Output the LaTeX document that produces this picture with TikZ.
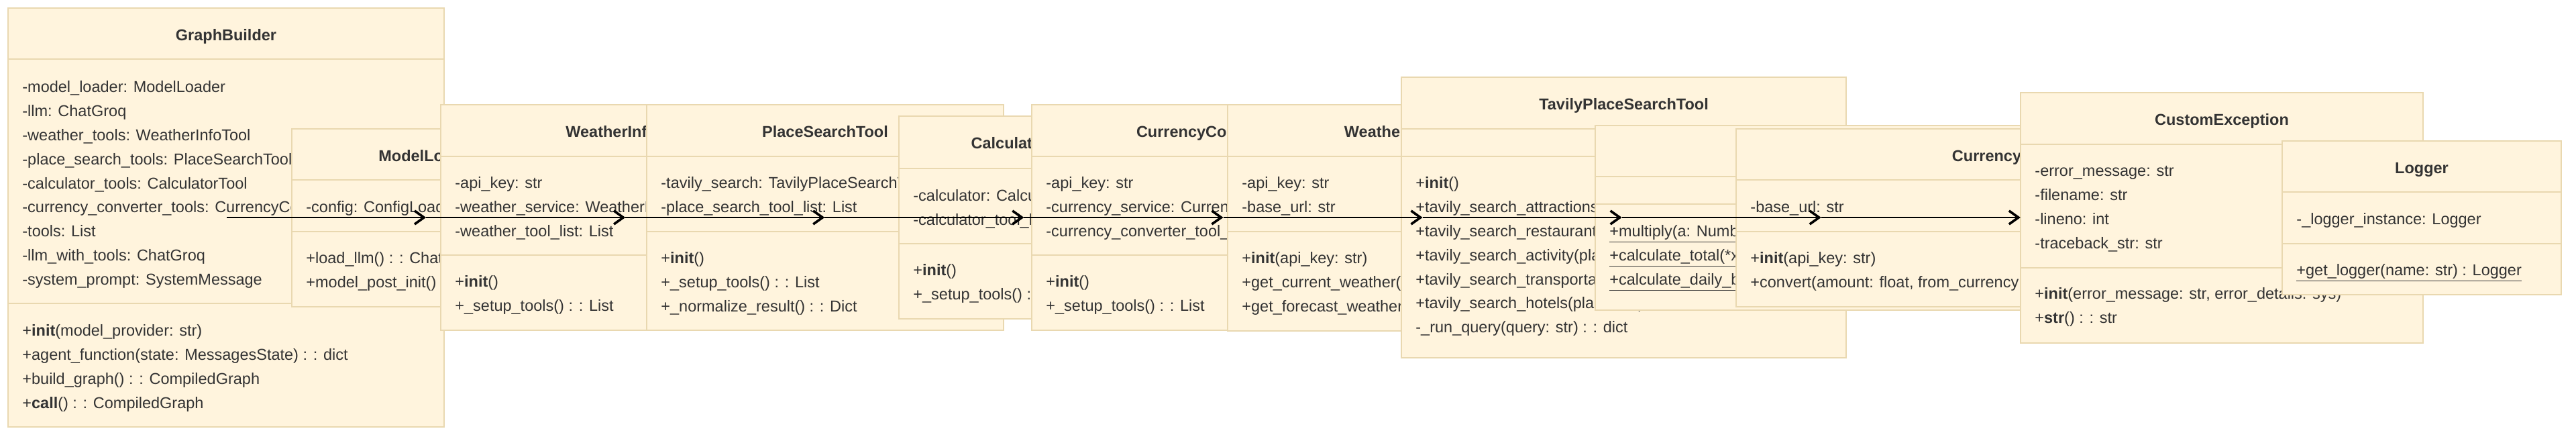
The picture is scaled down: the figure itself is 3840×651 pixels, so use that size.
\documentclass[tikz,border=0pt]{standalone}
\usepackage{fontspec}
\setmainfont{Liberation Sans}
\usetikzlibrary{arrows.meta}
\definecolor{boxfill}{HTML}{FFF4DD}
\definecolor{boxline}{HTML}{E9D8B0}
\definecolor{txtgray}{HTML}{333333}
\newcommand\umlclass[8]{%
  \node[cls, minimum width={(#4-#2)*0.5pt}, minimum height={(#5-#3)*0.5pt}] (#1) at ({(#2+#4)/2},{(#3+#5)/2}) {};
  \draw[sep] (#2,#6) -- (#4,#6) (#2,#7) -- (#4,#7);
  \node[ttl] (#1-t) at ({(#2+#4)/2},#3+49) {#8};}
\newcommand\umllines[5]{%
  \foreach \linetext [count=\i] in {#5} \node[txt] (#1-#2\i) at (#3,{#4+35.8*(\i-1)}) {\linetext};}
\begin{document}
\begin{tikzpicture}[x=0.5pt, y=-0.5pt,
  cls/.style={draw=boxline, fill=boxfill, line width=1pt, inner sep=0pt, outer sep=0pt},
  sep/.style={draw=boxline, line width=1pt},
  ttl/.style={anchor=base, font=\fontsize{11.75}{14}\selectfont\bfseries, text=txtgray, inner sep=0pt},
  txt/.style={anchor=base west, font=\fontsize{11.75}{14}\selectfont, text=txtgray, inner sep=0pt},
  dep/.style={-{Straight Barb[length=7pt,width=10pt,line width=1.8pt]}, line width=1.3pt, black}]
\useasboundingbox (0,0) rectangle (3840,651);
\umlclass{gb}{12}{12}{662}{636}{88}{452}{GraphBuilder}
\umllines{gb}{a}{33}{138}{-model\_loader: ModelLoader, -llm: ChatGroq, -weather\_tools: WeatherInfoTool, -place\_search\_tools: PlaceSearchTool, -calculator\_tools: CalculatorTool, -currency\_converter\_tools: CurrencyConverterTool, -tools: List, -llm\_with\_tools: ChatGroq, -system\_prompt: SystemMessage}
\umllines{gb}{m}{33}{501}{+\textbf{init}(model\_provider: str), +agent\_function(state: MessagesState) : : dict, +build\_graph() : : CompiledGraph, +\textbf{call}() : : CompiledGraph}
\umlclass{ml}{435}{192}{840}{457}{268}{345}{ModelLoader}
\umllines{ml}{a}{456}{317}{-config: ConfigLoader}
\umllines{ml}{m}{456}{393}{+load\_llm() : : ChatGroq, +model\_post\_init()}
\umlclass{wi}{657}{156}{1213}{492}{233}{380}{WeatherInfoTool}
\umllines{wi}{a}{678}{281}{-api\_key: str, -weather\_service: WeatherForecastTool, -weather\_tool\_list: List}
\umllines{wi}{m}{678}{428}{+\textbf{init}(), +\_setup\_tools() : : List}
\umlclass{ps}{964}{156}{1496}{492}{233}{345}{PlaceSearchTool}
\umllines{ps}{a}{985}{281}{-tavily\_search: TavilyPlaceSearchTool, -place\_search\_tool\_list: List}
\umllines{ps}{m}{985}{393}{+\textbf{init}(), +\_setup\_tools() : : List, +\_normalize\_result() : : Dict}
\umlclass{ct}{1340}{173}{1718}{475}{251}{363}{CalculatorTool}
\umllines{ct}{a}{1361}{300}{-calculator: Calculator, -calculator\_tool\_list: List}
\umllines{ct}{m}{1361}{411}{+\textbf{init}(), +\_setup\_tools() : : List}
\umlclass{cc}{1538}{156}{2112}{492}{233}{380}{CurrencyConverterTool}
\umllines{cc}{a}{1559}{281}{-api\_key: str, -currency\_service: CurrencyConverter, -currency\_converter\_tool\_list: List}
\umllines{cc}{m}{1559}{428}{+\textbf{init}(), +\_setup\_tools() : : List}
\umlclass{wf}{1830}{156}{2416}{493}{233}{345}{WeatherForecastTool}
\umllines{wf}{a}{1851}{281}{-api\_key: str, -base\_url: str}
\umllines{wf}{m}{1851}{393}{+\textbf{init}(api\_key: str), +get\_current\_weather(place: str), +get\_forecast\_weather(place: str)}
\umlclass{tv}{2089}{115}{2752}{533}{192}{233}{TavilyPlaceSearchTool}
\umllines{tv}{m}{2110}{281}{+\textbf{init}(), +tavily\_search\_attractions(place: str) : : dict, +tavily\_search\_restaurants(place: str) : : dict, +tavily\_search\_activity(place: str) : : dict, +tavily\_search\_transportation(place: str) : : dict, +tavily\_search\_hotels(place: str) : : dict, -\_run\_query(query: str) : : dict}
\umlclass{ca}{2378}{187}{3100}{462}{263}{304}{Calculator}
\umllines{ca}{m}{2399}{353}{{\underline{+multiply(a: Number, b: Number) : : Number}}, {\underline{+calculate\_total(*x: Number) : : Number}}, {\underline{+calculate\_daily\_budget(total: Number, days: int) : : Number}}}
\umlclass{cv}{2588}{192}{3446}{457}{268}{345}{CurrencyConverter}
\umllines{cv}{a}{2609}{317}{-base\_url: str}
\umllines{cv}{m}{2609}{393}{+\textbf{init}(api\_key: str), {+convert(amount: float, from\_currency: str, to\_currency: str) : : float}}
\umlclass{ce}{3012}{138}{3612}{511}{215}{399}{CustomException}
\umllines{ce}{a}{3033}{263}{-error\_message: str, -filename: str, -lineno: int, -traceback\_str: str}
\umllines{ce}{m}{3033}{446}{{+\textbf{init}(error\_message: str, error\_details: sys)}, +\textbf{str}() : : str}
\umlclass{lg}{3402}{210}{3818}{439}{286}{363}{Logger}
\umllines{lg}{a}{3423}{335}{-\_logger\_instance: Logger}
\umllines{lg}{m}{3423}{411}{{\underline{+get\_logger(name: str) : Logger}}}
\foreach \k in {0,...,9} \coordinate (r\k) at ({338+297.1*\k},324);
\foreach \j/\k in {0/1,1/2,2/3,3/4,4/5,5/6,6/7,7/8,8/9} \draw[dep] (r\j) -- (r\k);
\end{tikzpicture}
\end{document}
